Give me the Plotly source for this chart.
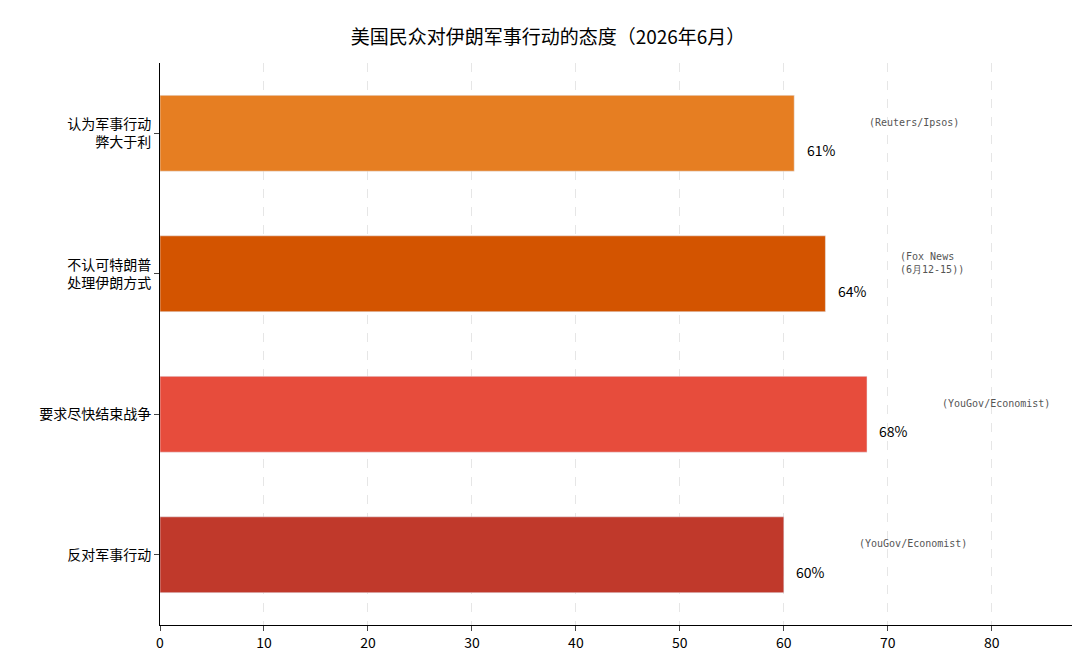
import plotly.graph_objects as go

categories = ["认为军事行动<br>弊大于利", "不认可特朗普<br>处理伊朗方式", "要求尽快结束战争", "反对军事行动"]
values = [61, 64, 68, 60]
colors = ["#E67E22", "#D35400", "#E74C3C", "#C0392B"]
sources = ["(Reuters/Ipsos)", "(Fox News<br>(6月12-15))", "(YouGov/Economist)", "(YouGov/Economist)"]
xticks = [0, 10, 20, 30, 40, 50, 60, 70, 80]

pos = list(range(len(categories)))
fig = go.Figure(go.Bar(x=values, y=pos, orientation="h", marker_color=colors,
                       width=0.54, hoverinfo="skip"))
for i, (v, s) in enumerate(zip(values, sources)):
    fig.add_annotation(x=v + 1, y=i + 0.12, text=f"{v}%", showarrow=False, xanchor="left",
                       font=dict(size=14, color="black", family="Noto Sans CJK SC"))
    fig.add_annotation(x=v + 7, y=i - 0.08, text=s, showarrow=False, xanchor="left",
                       align="left", font=dict(size=10, color="#555", family="DejaVu Sans Mono"))

fig.update_layout(
    width=1080, height=656, plot_bgcolor="white", paper_bgcolor="white",
    margin=dict(l=152, r=12, t=55, b=39), showlegend=False,
    font=dict(family="Noto Sans CJK SC", size=14, color="black"),
    title=dict(text="美国民众对伊朗军事行动的态度（2026年6月）", x=0.5, xanchor="center",
               y=0.965, font=dict(size=19)),
)
fig.update_xaxes(range=[0, 88.1], tickvals=xticks, showgrid=True, gridcolor="#e6e6e6",
                 griddash="dash", showline=True, linecolor="black", ticks="outside",
                 ticklen=5, zeroline=False)
fig.update_yaxes(tickvals=pos, ticktext=categories, range=[3.5, -0.5], showline=True,
                 linecolor="black", ticks="outside", ticklen=5, showgrid=False, zeroline=False)
fig.write_html("out.html")
